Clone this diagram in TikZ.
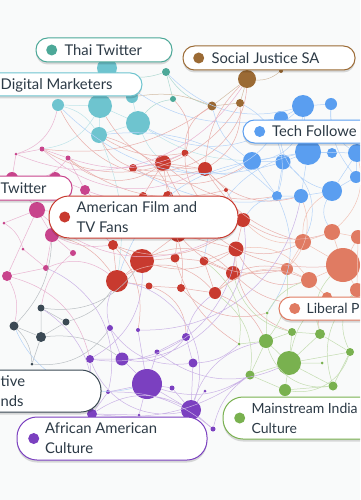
\documentclass[tikz,border=0pt]{standalone}
\usepackage{fontspec}
\setmainfont{Lato}
\usetikzlibrary{positioning,shadows}

\definecolor{dmcol}{HTML}{6EC4CF}
\definecolor{thcol}{HTML}{4CA898}
\definecolor{sjcol}{HTML}{9B6A34}
\definecolor{tfcol}{HTML}{5A9EF0}
\definecolor{afcol}{HTML}{C83A2F}
\definecolor{lpcol}{HTML}{E07B62}
\definecolor{ktcol}{HTML}{C8448C}
\definecolor{cbcol}{HTML}{3B4954}
\definecolor{aacol}{HTML}{7B40C0}
\definecolor{micol}{HTML}{79B14F}
\definecolor{txtcol}{HTML}{2C3A46}
\definecolor{bgcol}{HTML}{F9FAFA}

\tikzset{
  dot/.style={circle, inner sep=0pt},
  dmdot/.style={dot, fill=dmcol, minimum size=#1},
  thdot/.style={dot, fill=thcol, minimum size=#1},
  sjdot/.style={dot, fill=sjcol, minimum size=#1},
  tfdot/.style={dot, fill=tfcol, minimum size=#1},
  afdot/.style={dot, fill=afcol, minimum size=#1},
  lpdot/.style={dot, fill=lpcol, minimum size=#1},
  ktdot/.style={dot, fill=ktcol, minimum size=#1},
  cbdot/.style={dot, fill=cbcol, minimum size=#1},
  aadot/.style={dot, fill=aacol, minimum size=#1},
  midot/.style={dot, fill=micol, minimum size=#1},
  lnk/.style={line width=0.5pt},
  dmln/.style={lnk, draw=dmcol!45!white},
  thln/.style={lnk, draw=thcol!45!white},
  sjln/.style={lnk, draw=sjcol!45!white},
  tfln/.style={lnk, draw=tfcol!45!white},
  afln/.style={lnk, draw=afcol!40!white},
  lpln/.style={lnk, draw=lpcol!45!white},
  ktln/.style={lnk, draw=ktcol!40!white},
  cbln/.style={lnk, draw=cbcol!35!white},
  aaln/.style={lnk, draw=aacol!40!white},
  miln/.style={lnk, draw=micol!45!white},
  pill/.style={draw=#1, line width=1pt, fill=white, rounded corners=11.5pt, inner sep=0pt,
    drop shadow={shadow xshift=0pt, shadow yshift=-2.5pt, opacity=0.14, fill=black}},
  tallpill/.style={pill=#1, rounded corners=20pt},
  keydot/.style={circle, inner sep=0pt, minimum size=11pt, fill=#1},
  keytext/.style={inner sep=0pt, text=txtcol, font=\fontsize{14.8}{20}\selectfont, align=left},
}

\begin{document}
\begin{tikzpicture}[x=1pt,y=1pt,yscale=-1,xscale=1]
\useasboundingbox (0,0) rectangle (360,500);
\clip (0,0) rectangle (360,500);
\fill[bgcol] (0,0) rectangle (360,500);

% Digital Marketers
\node[dmdot=20pt] (c1) at (107,68) {};
\node[dmdot=24pt] (c2) at (100,106) {};
\node[dmdot=24pt] (c3) at (138,123) {};
\node[dmdot=16pt] (c4) at (99,135) {};
\node[dmdot=12pt] (c5) at (58,105) {};
\node[dmdot=12pt] (c6) at (132,97) {};
% Thai Twitter
\node[thdot=8pt] (t1) at (166,72) {};
\node[thdot=6pt] (t2) at (173,99) {};
% Social Justice SA
\node[sjdot=18pt] (b1) at (247,79) {};
\node[sjdot=4pt] (b2) at (281,71) {};
\node[sjdot=9pt] (b3) at (212,106) {};
\node[sjdot=8pt] (b4) at (240,103) {};
% Tech Followers
\node[tfdot=22pt] (u1) at (303,106) {};
\node[tfdot=12pt] (u2) at (331,104) {};
\node[tfdot=14pt] (u3) at (281,118) {};
\node[tfdot=26pt] (u4) at (308,152) {};
\node[tfdot=10pt] (u5) at (332,153) {};
\node[tfdot=18pt] (u6) at (252,161) {};
\node[tfdot=15pt] (u7) at (283,162) {};
\node[tfdot=18pt] (u8) at (357,153) {};
\node[tfdot=14pt] (u9) at (301,196) {};
\node[tfdot=20pt] (u10) at (332,191) {};
\node[tfdot=12pt] (u11) at (356,177) {};
\node[tfdot=10pt] (u12) at (277,196) {};
% American Film and TV Fans
\node[afdot=8pt] (r1) at (133,168) {};
\node[afdot=16pt] (r2) at (163,163) {};
\node[afdot=7pt] (r3) at (185,153) {};
\node[afdot=14pt] (r4) at (205,169) {};
\node[afdot=4pt] (r5) at (226,190) {};
\node[afdot=8pt] (r6) at (143,196) {};
\node[afdot=10pt] (r7) at (168,196) {};
\node[afdot=14pt] (r8) at (243,220) {};
\node[afdot=15pt] (r9) at (236,249) {};
\node[afdot=9pt] (r10) at (204,261) {};
\node[afdot=14pt] (r11) at (233,273) {};
\node[afdot=12pt] (r12) at (215,293) {};
\node[afdot=8pt] (r13) at (181,288) {};
\node[afdot=9pt] (r14) at (175,258) {};
\node[afdot=24pt] (r15) at (142,261) {};
\node[afdot=22pt] (r16) at (117,281) {};
\node[afdot=7pt] (r17) at (149,286) {};
\node[afdot=10pt] (r18) at (113,245) {};
\node[afdot=16pt] (r19) at (178,234) {};
% Liberal P
\node[lpdot=16pt] (s1) at (332,232) {};
\node[lpdot=16pt] (s2) at (303,242) {};
\node[lpdot=34pt] (s3) at (343,265) {};
\node[lpdot=14pt] (s4) at (358,237) {};
\node[lpdot=12pt] (s5) at (287,269) {};
\node[lpdot=16pt] (s6) at (309,280) {};
\node[lpdot=14pt] (s7) at (357,290) {};
\node[lpdot=10pt] (s8) at (327,297) {};
% Twitter (pink)
\node[ktdot=5pt] (p1) at (42,149) {};
\node[ktdot=5pt] (p2) at (68,158) {};
\node[ktdot=3pt] (p3) at (16,154) {};
\node[ktdot=12pt] (p4) at (12,178) {};
\node[ktdot=12pt] (p5) at (55,178) {};
\node[ktdot=10pt] (p6) at (85,190) {};
\node[ktdot=16pt] (p7) at (37,210) {};
\node[ktdot=3pt] (p8) at (4,223) {};
\node[ktdot=14pt] (p9) at (52,235) {};
\node[ktdot=3pt] (p10) at (23,249) {};
\node[ktdot=6pt] (p11) at (73,253) {};
\node[ktdot=6pt] (p12) at (46,268) {};
\node[ktdot=10pt] (p13) at (7,276) {};
% slate group
\node[cbdot=7pt] (g1) at (41,308) {};
\node[cbdot=9pt] (g2) at (14,326) {};
\node[cbdot=7pt] (g3) at (66,322) {};
\node[cbdot=10pt] (g4) at (41,337) {};
\node[cbdot=3pt] (g5) at (32,364) {};
% African American Culture
\node[aadot=6pt] (v1) at (110,328) {};
\node[aadot=4pt] (v2) at (138,330) {};
\node[aadot=8pt] (v3) at (186,337) {};
\node[aadot=5pt] (v4) at (157,352) {};
\node[aadot=8pt] (v5) at (90,359) {};
\node[aadot=13pt] (v6) at (122,359) {};
\node[aadot=9pt] (v7) at (193,363) {};
\node[aadot=30pt] (v8) at (147,384) {};
\node[aadot=5pt] (v9) at (172,388) {};
\node[aadot=4pt] (v10) at (108,392) {};
\node[aadot=10pt] (v11) at (92,414) {};
\node[aadot=3pt] (v12) at (139,415) {};
\node[aadot=20pt] (v13) at (191,410) {};
\node[aadot=3pt] (v14) at (205,391) {};
\node[aadot=5pt] (v15) at (213,429) {};
% Mainstream Indian Culture
\node[midot=3pt] (e1) at (267,313) {};
\node[midot=3pt] (e2) at (239,344) {};
\node[midot=14pt] (e3) at (266,341) {};
\node[midot=8pt] (e4) at (292,332) {};
\node[midot=10pt] (e5) at (320,334) {};
\node[midot=24pt] (e6) at (289,363) {};
\node[midot=8pt] (e7) at (350,352) {};
\node[midot=3pt] (e8) at (322,363) {};
\node[midot=9pt] (e9) at (250,375) {};
\node[midot=12pt] (e10) at (285,390) {};
\node[midot=9pt] (e11) at (333,386) {};

% Digital Marketers links
\draw[dmln] (c1) -- (c2) (c2) -- (c3) (c2) -- (c4) (c2) -- (c5) (c3) -- (c4) (c6) -- (c3) (c1) -- (c6) (c5) to[bend right=20] (c4);
\draw[dmln] (c3) to[bend left=15] (u6) (c4) to[bend right=15] (r16) (c2) to[bend right=25] (p1) (c3) to[bend left=10] (r2);
% Thai Twitter links
\draw[thln] (t1) -- (t2) (t1) to[bend right=20] (c1) (t2) to[bend left=20] (c3) (t1) to[bend left=20] (b3);
% Social Justice links
\draw[sjln] (b1) -- (b3) (b1) -- (b4) (b3) -- (b4) (b1) to[bend left=20] (b2) (b3) to[bend left=15] (c6);
% Tech links
\draw[tfln] (u1) -- (u2) (u1) -- (u3) (u1) -- (u4) (u3) -- (u4) (u4) -- (u5) (u4) -- (u6) (u4) -- (u7) (u6) -- (u7) (u4) -- (u8) (u8) -- (u11) (u4) -- (u9) (u9) -- (u10) (u10) -- (u11) (u9) -- (u12) (u7) -- (u12) (u6) -- (u12) (u8) -- (u10) (u2) to[bend left=30] (u8);
\draw[tfln] (u1) to[bend right=35] (c3) (u6) to[bend right=20] (b3) (u3) to[bend left=40] (u10) (u1) to[bend right=40] (u6) (u2) to[bend left=20] (u11) (u6) to[bend right=30] (r4) (u12) to[bend left=20] (r8) (u7) to[bend right=40] (s2) (u1) to[bend right=30] (t1) (u6) to[bend left=30] (r16) (c1) to[bend left=25] (u3) (u10) to[bend left=30] (s1);
\draw[tfln] (c5) to[bend left=30] (u7) (c4) to[bend right=25] (u12) (r1) to[bend left=20] (u9) (u4) to[bend left=35] (r10) (u3) to[bend right=45] (r2) (b4) to[bend right=40] (u12) (g2) to[bend left=40] (v8) (u12) to[bend right=30] (e1);
% Film links
\draw[afln] (r1) -- (r2) (r2) -- (r3) (r2) -- (r4) (r3) -- (r4) (r4) -- (r5) (r5) -- (r8) (r8) -- (r9) (r9) -- (r10) (r9) -- (r11) (r10) -- (r14) (r11) -- (r12) (r12) -- (r13) (r13) -- (r17) (r14) -- (r15) (r15) -- (r16) (r15) -- (r18) (r16) -- (r18) (r16) -- (r17) (r2) -- (r6) (r2) -- (r7) (r7) -- (r19) (r19) -- (r14) (r15) -- (r19) (r10) -- (r11) (r19) -- (r9) (r10) -- (r12);
\draw[afln] (r9) to[bend left=20] (s2) (r11) to[bend right=15] (s5) (r8) to[bend left=25] (s1) (r2) to[bend left=35] (s3) (r4) to[bend left=20] (s2) (r12) to[bend right=30] (s6) (r16) to[bend right=40] (r12) (r15) to[bend left=25] (r9) (r18) to[bend left=30] (r8) (r1) to[bend right=20] (c4) (r3) to[bend right=30] (b3) (r4) to[bend right=20] (b1) (r2) to[bend right=40] (p2) (r16) to[bend left=20] (p9) (r13) to[bend left=30] (e1) (r12) to[bend right=20] (e3) (r11) to[bend left=30] (s8) (r17) to[bend right=35] (v3) (r9) to[bend left=40] (s6) (r1) to[bend left=30] (u6);
\draw[afln] (c2) to[bend left=30] (r4) (c4) to[bend left=20] (r3) (r2) to[bend left=25] (u12) (r4) to[bend left=30] (u9) (p2) to[bend left=25] (r5) (r6) to[bend right=30] (r13) (r15) to[bend right=35] (r11) (r19) to[bend left=30] (s5) (r3) to[bend left=40] (r8) (b4) to[bend right=30] (r4) (b3) to[bend right=20] (p1) (r18) to[bend right=25] (v2) (r14) to[bend left=20] (e2) (r9) to[bend left=35] (e4);
\draw[afln] (p1) to[bend left=45] (b4) (c5) to[bend left=40] (r4) (r1) to[bend left=50] (b1) (t2) to[bend right=30] (r3) (c4) to[bend right=35] (r19);
% Liberal links
\draw[lpln] (s1) -- (s3) (s2) -- (s3) (s3) -- (s4) (s3) -- (s6) (s3) -- (s7) (s5) -- (s6) (s2) -- (s5) (s6) -- (s8) (s1) -- (s2) (s4) -- (s7) (s1) -- (s4);
\draw[lpln] (s8) to[bend left=20] (e5) (s5) to[bend left=30] (u9) (s2) to[bend right=30] (u10) (s1) to[bend left=30] (u8) (s6) to[bend left=30] (r9) (s2) to[bend right=25] (r8) (s5) to[bend left=20] (r12);
% Twitter (pink) links
\draw[ktln] (p1) -- (p2) (p1) -- (p3) (p2) -- (p6) (p5) -- (p6) (p7) -- (p9) (p9) -- (p11) (p9) -- (p12) (p12) -- (p13) (p7) -- (p13) (p10) -- (p12) (p4) -- (p7) (p8) -- (p7) (p3) -- (p4);
\draw[ktln] (p6) to[bend left=15] (r6) (p9) to[bend left=15] (r18) (p13) to[bend right=20] (g2) (p11) to[bend left=20] (g1) (p1) to[bend left=35] (r4) (p2) to[bend left=20] (r3) (p7) to[bend right=20] (r18) (p6) to[bend left=20] (r19) (p7) to[bend left=40] (r8) (p12) to[bend right=30] (r16) (p3) to[bend left=40] (b1) (p13) to[bend right=30] (v5) (p8) to[bend right=20] (p10) (p3) to[bend left=30] (c5) (p4) to[bend left=30] (p2);
% slate links
\draw[cbln] (g1) -- (g4) (g2) -- (g4) (g3) -- (g4) (g1) -- (g3) (g4) -- (g5) (g2) to[bend right=20] (g5) (g3) to[bend left=20] (r16) (g1) to[bend left=30] (r15) (g4) to[bend right=20] (v6) (g2) to[bend left=20] (p9) (g5) to[bend left=30] (v1);
% African American links
\draw[aaln] (v1) -- (v6) (v5) -- (v6) (v6) -- (v8) (v8) -- (v9) (v8) -- (v10) (v8) -- (v12) (v8) -- (v13) (v13) -- (v15) (v13) -- (v7) (v7) -- (v3) (v3) -- (v4) (v4) -- (v8) (v2) -- (v8) (v5) -- (v11) (v11) -- (v12) (v10) -- (v11) (v14) -- (v13) (v9) -- (v13);
\draw[aaln] (v6) to[bend left=30] (v3) (v5) to[bend left=40] (v13) (v1) to[bend left=30] (v7) (v8) to[bend left=25] (e9) (v13) to[bend right=30] (e3) (v10) to[bend right=20] (v15) (v11) to[bend right=30] (v13) (v5) to[bend left=30] (r15) (v7) to[bend left=20] (e2) (v3) to[bend right=20] (r12) (v1) to[bend right=20] (r16) (v4) to[bend left=30] (e6) (v15) to[bend right=20] (e9) (v2) to[bend left=40] (u9) (v6) to[bend left=50] (r8) (v5) to[bend left=45] (r9) (v11) to[bend left=20] (e9);
\draw[aaln] (g1) to[bend right=30] (v11) (p12) to[bend right=40] (v10) (r16) to[bend right=50] (v13);
% Mainstream Indian links
\draw[miln] (e3) -- (e4) (e4) -- (e6) (e5) -- (e6) (e3) -- (e6) (e6) -- (e9) (e6) -- (e10) (e6) -- (e11) (e6) -- (e7) (e7) -- (e5) (e7) -- (e11) (e10) -- (e11) (e9) -- (e10) (e1) -- (e3) (e2) -- (e3) (e4) -- (e5) (e8) -- (e6) (e9) -- (e3);
\draw[miln] (e3) to[bend left=20] (s5) (e1) to[bend right=20] (s6) (e6) to[bend right=20] (s8) (e5) to[bend right=30] (s3) (e7) to[bend right=30] (s7) (e9) to[bend left=30] (r12) (e2) to[bend left=30] (r10) (e11) to[bend right=40] (e3) (e10) to[bend left=40] (e7) (e4) to[bend right=30] (r11) (s7) to[bend left=30] (e11);

% Label: Thai Twitter
\node[pill=thcol, minimum width=136pt, minimum height=24pt] (thaibox) at (104,50) {};
\node[keydot=thcol, right=10.5pt of thaibox.west] (thaidot) {};
\node[keytext, right=7pt of thaidot] (thaitext) {Thai Twitter};
% Label: Digital Marketers
\node[pill=dmcol, minimum width=182pt, minimum height=23pt] (dmbox) at (51,84.5) {};
\node[keytext, anchor=west] (dmtext) at (0.5,85) {Digital Marketers};
% Label: Social Justice SA
\node[pill=sjcol, minimum width=172pt, minimum height=24pt] (sjbox) at (269,58) {};
\node[keydot=sjcol, right=10.5pt of sjbox.west] (sjdot) {};
\node[keytext, right=7pt of sjdot] (sjtext) {Social Justice SA};
% Label: Tech Followers
\node[pill=tfcol, minimum width=150pt, minimum height=23pt] (tfbox) at (318,131.5) {};
\node[keydot=tfcol, right=11.5pt of tfbox.west] (tfdot) {};
\node[keytext, right=6.5pt of tfdot] (tftext) {Tech Followe};
% Label: Twitter
\node[pill=ktcol, minimum width=112pt, minimum height=24pt] (ktbox) at (16,188) {};
\node[keytext, anchor=west] (kttext) at (0.5,188) {Twitter};
% Label: American Film and TV Fans
\node[tallpill=afcol, minimum width=189pt, minimum height=42pt] (afbox) at (143.5,217) {};
\node[keydot=afcol, right=10.5pt of afbox.west] (afdot) {};
\node[keytext, right=6pt of afdot] (aftext) {American Film and\\TV Fans};
% Label: Liberal P
\node[pill=lpcol, minimum width=121pt, minimum height=23pt] (lpbox) at (339.5,308.5) {};
\node[keydot=lpcol, right=10.5pt of lpbox.west] (lpdot) {};
\node[keytext, font=\fontsize{14}{20}\selectfont, right=6pt of lpdot] (lptext) {Liberal P};
% Label: slate group
\node[tallpill=cbcol, minimum width=161pt, minimum height=42pt] (cbbox) at (20.5,391) {};
\node[keytext, anchor=west] (cbtext) at (0.5,391) {tive\\nds};
% Label: African American Culture
\node[tallpill=aacol, minimum width=190pt, minimum height=43pt] (aabox) at (112,438.5) {};
\node[keydot=aacol, right=11.5pt of aabox.west] (aadot) {};
\node[keytext, right=5.5pt of aadot] (aatext) {African American\\Culture};
% Label: Mainstream Indian Culture
\node[tallpill=micol, minimum width=177pt, minimum height=42pt] (mibox) at (311.5,418) {};
\node[keydot=micol, right=11.5pt of mibox.west] (midot) {};
\node[keytext, font=\fontsize{14}{20}\selectfont, right=6pt of midot] (mitext) {Mainstream India\\Culture};

\end{tikzpicture}
\end{document}
